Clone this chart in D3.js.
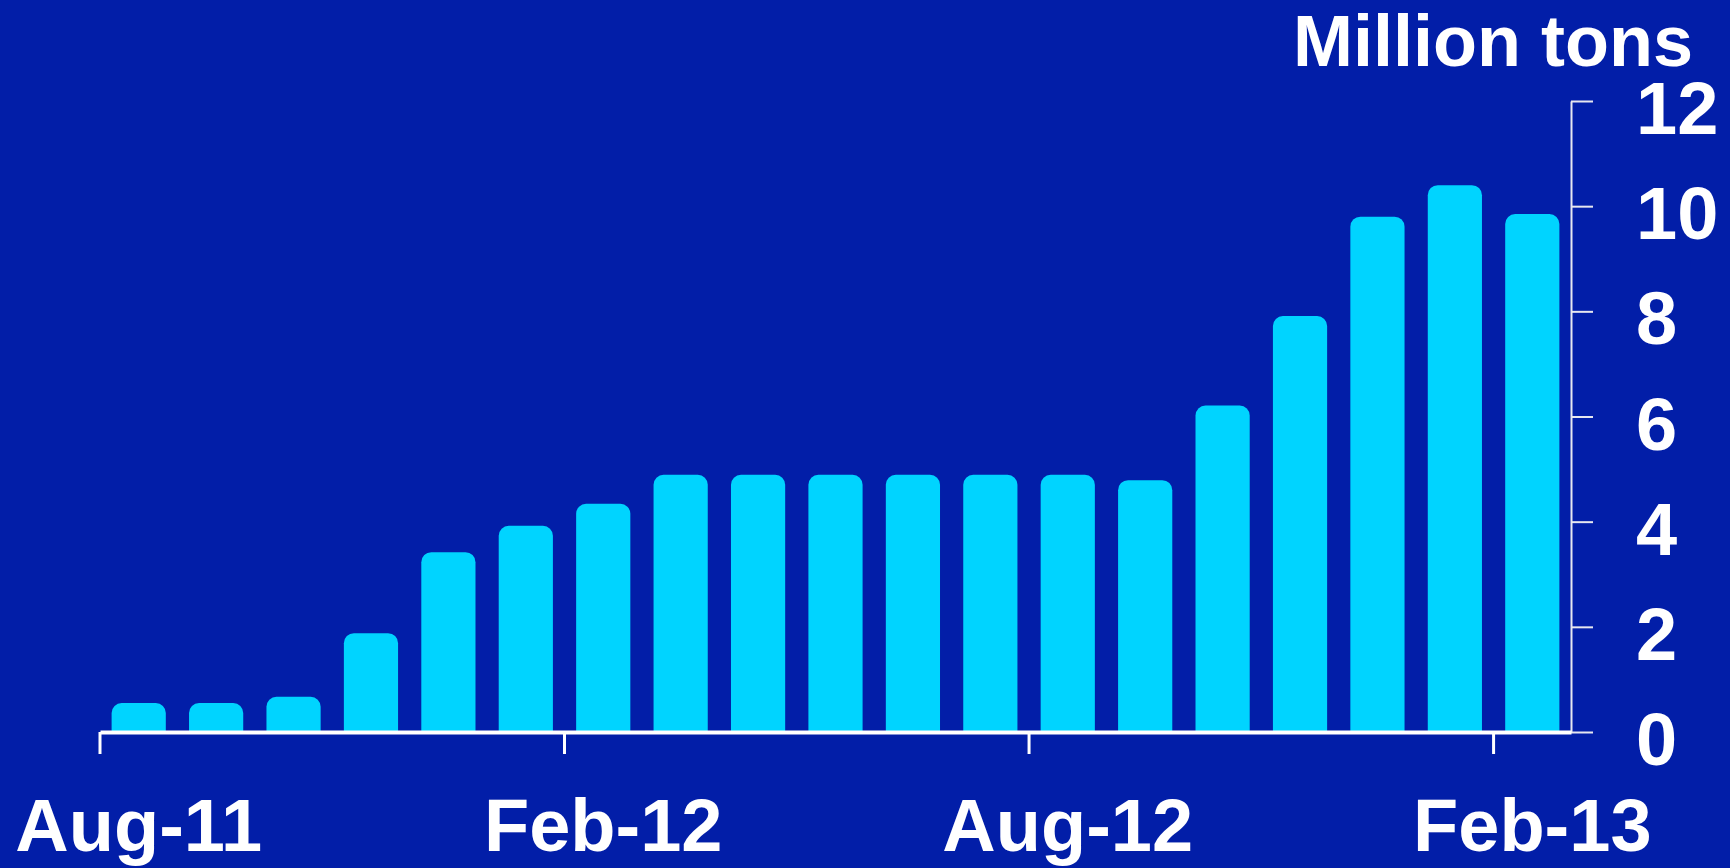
<!DOCTYPE html>
<html>
<head>
<meta charset="utf-8">
<script src="https://cdn.jsdelivr.net/npm/d3@7"></script>
<style>
  html, body { margin: 0; padding: 0; background: #021EA8; }
  svg { display: block; }
  text { font-family: "Liberation Sans", Arial, sans-serif; font-weight: bold; fill: #ffffff; }
</style>
</head>
<body>
<svg id="chart" width="1730" height="868"></svg>
<script>
const months = ["Aug-11","Sep-11","Oct-11","Nov-11","Dec-11","Jan-12","Feb-12","Mar-12","Apr-12","May-12","Jun-12","Jul-12","Aug-12","Sep-12","Oct-12","Nov-12","Dec-12","Jan-13","Feb-13"];
const values = [0.55, 0.55, 0.67, 1.88, 3.42, 3.92, 4.34, 4.89, 4.89, 4.89, 4.89, 4.89, 4.89, 4.79, 6.21, 7.91, 9.80, 10.40, 9.85];
const xTickLabels = ["Aug-11","Feb-12","Aug-12","Feb-13"];
const yTicks = [0, 2, 4, 6, 8, 10, 12];
const unitLabel = "Million tons";

(function () {
const svg = d3.select("#chart");
const W = 1730, H = 868;
svg.append("rect").attr("width", W).attr("height", H).attr("fill", "#021EA8");

const plotLeft = 100, plotRight = 1571, plotTop = 101, plotBottom = 732;

const x = d3.scaleBand().domain(months).range([plotLeft, plotRight]).paddingInner(0.3).paddingOuter(0.15);
const y = d3.scaleLinear().domain([0, 12]).range([plotBottom, plotTop]);

// bars with rounded top corners
const r = 10;
svg.append("g").selectAll("path").data(months).join("path")
  .attr("fill", "#00D4FF")
  .attr("d", (m, i) => {
    const x0 = x(m), w = x.bandwidth(), y0 = y(values[i]), yb = y(0);
    const rr = Math.min(r, (yb - y0));
    return `M${x0},${yb}V${y0 + rr}A${rr},${rr} 0 0 1 ${x0 + rr},${y0}H${x0 + w - rr}A${rr},${rr} 0 0 1 ${x0 + w},${y0 + rr}V${yb}Z`;
  });

// y axis on the right
const yAxis = svg.append("g")
  .attr("transform", `translate(${plotRight},0)`)
  .call(d3.axisRight(y).tickValues(yTicks).tickSize(22).tickSizeOuter(0).tickFormat(d3.format("d")));
yAxis.select(".domain").attr("stroke", "#e6e6f0").attr("stroke-width", 2);
yAxis.selectAll(".tick line").attr("stroke", "#e6e6f0").attr("stroke-width", 2);
yAxis.selectAll(".tick text")
  .attr("x", 65).attr("dy", "0.44em")
  .attr("text-anchor", "start")
  .style("font-size", "74px").style("font-family", "'Liberation Sans', Arial, sans-serif")
  .style("font-weight", "bold").attr("fill", "#ffffff");

// x axis at the bottom
const xAxis = svg.append("g")
  .attr("transform", `translate(0,${plotBottom})`)
  .call(d3.axisBottom(x).tickValues(xTickLabels).tickSize(22).tickSizeOuter(0));
xAxis.select(".domain").attr("stroke", "#ffffff").attr("stroke-width", 4);
xAxis.selectAll(".tick line")
  .attr("x1", -x.step() / 2).attr("x2", -x.step() / 2)
  .attr("stroke", "#ffffff").attr("stroke-width", 3);
xAxis.selectAll(".tick text")
  .attr("y", 119).attr("dy", 0)
  .style("font-size", "74px").style("font-family", "'Liberation Sans', Arial, sans-serif")
  .style("font-weight", "bold").attr("fill", "#ffffff");

// unit label
svg.append("text")
  .attr("x", 1693).attr("y", 66)
  .attr("text-anchor", "end")
  .style("font-size", "72px")
  .text(unitLabel);
})();
</script>
</body>
</html>
